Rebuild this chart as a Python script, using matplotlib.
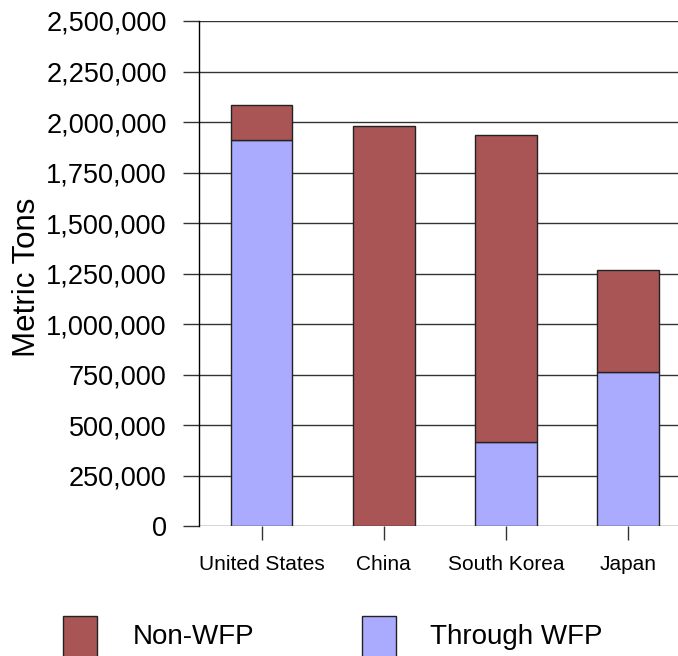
import matplotlib
matplotlib.use("Agg")
import matplotlib.pyplot as plt
from matplotlib.patches import Rectangle
from matplotlib.ticker import FuncFormatter

plt.rcParams['font.family'] = ['Liberation Sans', 'DejaVu Sans']

# data (metric tons)
countries = ['United States', 'China', 'South Korea', 'Japan']
through_wfp = [1912000, 0, 416000, 763000]
non_wfp = [172000, 1981000, 1518000, 505000]

col_non = '#A95555'
col_wfp = '#AAAAFF'

fig = plt.figure(figsize=(6.78, 6.56), dpi=100)
ax = fig.add_axes([0.294, 0.198, 0.7227, 0.770])

x = list(range(len(countries)))
ax.bar(x, through_wfp, width=0.504, color=col_wfp, edgecolor='#222222', linewidth=1, zorder=3)
ax.bar(x, non_wfp, width=0.504, bottom=through_wfp, color=col_non, edgecolor='#222222',
       linewidth=1, zorder=3)

ax.set_xlim(-0.51, 3.5)
ax.set_ylim(0, 2500000)
ax.set_yticks(range(0, 2500001, 250000))
ax.yaxis.set_major_formatter(FuncFormatter(lambda v, p: f'{int(v):,}'))
ax.set_xticks(x)
ax.set_xticklabels(countries)

ax.grid(axis='y', color='#333333', linewidth=1, zorder=1)
ax.tick_params(axis='y', length=11.5, width=1, color='#333333', pad=12, labelsize=19.5)
ax.tick_params(axis='x', length=10, width=1, color='#333333', pad=11, labelsize=15)
for s in ['top', 'right', 'bottom']:
    ax.spines[s].set_visible(False)
ax.spines['left'].set_color('black')
ax.spines['left'].set_linewidth(1)

ax.set_ylabel('Metric Tons', fontsize=22.5)
ax.yaxis.set_label_coords(-0.321, 0.493)

# legend drawn at the bottom, partly cut by the figure edge
legend_items = [('Non-WFP', col_non, 63, 133), ('Through WFP', col_wfp, 362, 430)]
W, H = 678.0, 656.0
for label, c, bx, tx in legend_items:
    fig.add_artist(Rectangle((bx / W, -0.01), 34 / W, (40 + 6.5) / H, transform=fig.transFigure,
                             facecolor=c, edgecolor='#222222', linewidth=1))
    fig.text(tx / W, (H - 637) / H, label, fontsize=20, va='center', ha='left')

fig.savefig('out.png', dpi=100)
